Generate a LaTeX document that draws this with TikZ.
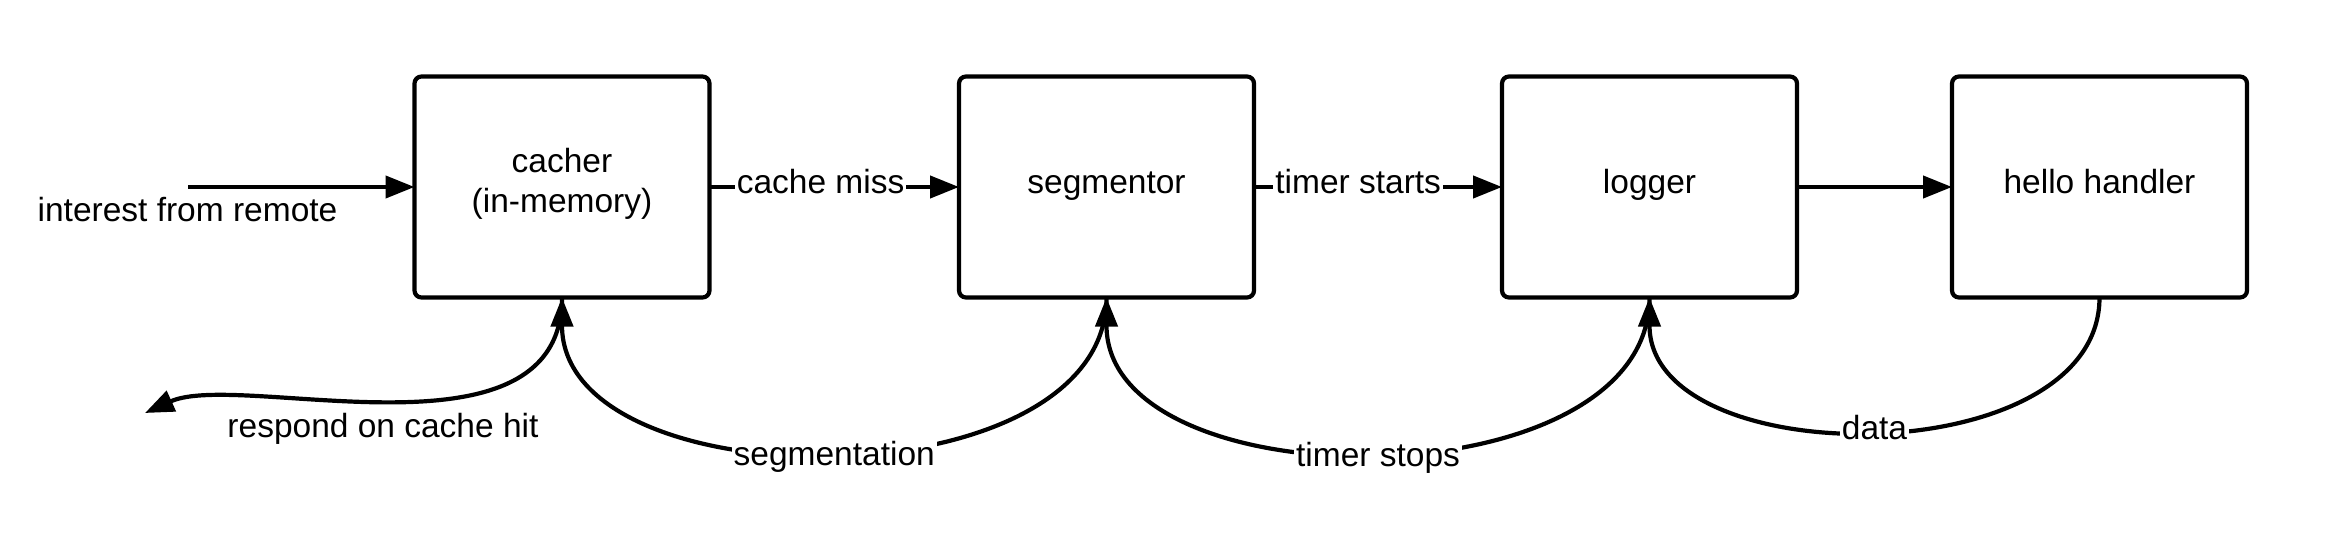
\documentclass[tikz,border=0pt]{standalone}
\usepackage{fontspec}
\setmainfont{Liberation Sans}
\usetikzlibrary{arrows.meta}
\tikzset{
  procbox/.style={draw=black, line width=4.2pt, rounded corners=7pt, minimum width=295pt, minimum height=221pt, inner sep=0pt, outer sep=0pt, fill=white},
  txt/.style={font=\fontsize{33.5}{40}\selectfont, inner sep=0pt, text=black},
  lbl/.style={txt, fill=white, inner sep=2pt},
  conn/.style={line width=4.2pt, -{Triangle[length=29pt,width=22pt]}},
}
\begin{document}
\begin{tikzpicture}[x=1pt, y=-1pt]
\fill[white] (0,0) rectangle (2326,559);
\useasboundingbox (0,0) rectangle (2326,559);
% boxes
\node[procbox] (cacher) at (562,187) {};
\node[procbox] (segmentor) at (1106.5,187) {};
\node[procbox] (logger) at (1649.5,187) {};
\node[procbox] (hello) at (2099.5,187) {};
% box texts
\node[txt, anchor=base] (tcacher1) at (562,172) {cacher};
\node[txt, anchor=base] (tcacher2) at (562,212) {(in-memory)};
\node[txt, anchor=base] (tseg) at (1106.5,193) {segmentor};
\node[txt, anchor=base] (tlog) at (1649.5,193) {logger};
\node[txt, anchor=base] (thello) at (2099.5,193) {hello handler};
% free ends
\coordinate (instart) at (188,187);
\coordinate (respend) at (145,413);
% straight connectors
\draw[conn] (instart) -- (cacher.west);
\node[txt, anchor=base] (tinterest) at (187.5,221) {interest from remote};
\draw[conn] (cacher.east) -- node[lbl, pos=0.445, yshift=5pt] {cache miss} (segmentor.west);
\draw[conn] (segmentor.east) -- node[lbl, pos=0.42, yshift=5pt] {timer starts} (logger.west);
\draw[conn] (logger.east) -- (hello.west);
% curved connectors
\draw[conn] (cacher.south) .. controls (562,470) and (240,370) .. (respend);
\node[txt, anchor=base] (tresp) at (383,437) {respond on cache hit};
\draw[conn] (segmentor.south) .. controls +(0,207) and +(0,207) .. node[lbl, pos=0.5, yshift=-4.5pt] {segmentation} (cacher.south);
\draw[conn] (logger.south) .. controls +(0,207) and +(0,207) .. node[lbl, pos=0.5, yshift=-5pt] {timer stops} (segmentor.south);
\draw[conn] (hello.south) .. controls +(0,177) and +(0,177) .. node[lbl, pos=0.5, yshift=3pt] {data} (logger.south);
\end{tikzpicture}
\end{document}
